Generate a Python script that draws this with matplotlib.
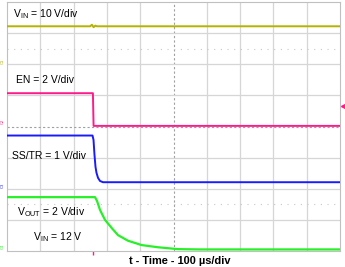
import matplotlib
matplotlib.use('Agg')
import matplotlib.pyplot as plt

plt.rcParams['font.family'] = ['Liberation Sans', 'DejaVu Sans']
plt.rcParams['mathtext.default'] = 'regular'

# time in us (100 us/div), levels in screen divisions (0 = bottom, 8 = top)
vin_t = [0, 250, 255, 260, 265, 270, 1000]
vin_y = [7.22, 7.22, 7.27, 7.19, 7.24, 7.22, 7.22]

en_t = [0, 258, 260, 1000]
en_y = [5.07, 5.07, 4.02, 4.02]

ss_t = [0, 256.8, 259.8, 262.8, 265.8, 268.8, 273.3, 279.3, 288.3, 1000]
ss_y = [3.71, 3.71, 3.57, 3.08, 2.70, 2.51, 2.35, 2.25, 2.21, 2.21]

vout_t = [0, 264.3, 270.3, 279.3, 294.3, 314.4, 333.3, 363.4, 404.5, 453.5, 513.5, 579.6, 1000]
vout_y = [1.73, 1.73, 1.61, 1.32, 1.00, 0.74, 0.51, 0.33, 0.19, 0.12, 0.06, 0.05, 0.05]

ch_names = ['1', '2', '3', '4']
ch_zero = [6.1, 4.15, 2.12, 0.16]
colors = ['#b3b300', '#ff1a8c', '#1a1aff', '#26f026']

fig = plt.figure(figsize=(3.45, 2.67), dpi=100)
ax = fig.add_axes([7/345, 16/267, 333/345, 249/267])
ax.set_xlim(0, 1000)
ax.set_ylim(0, 8)

for k in range(1, 10):
    if k == 5:
        ax.axvline(k*100, color='#a0a0a0', lw=0.8, ls=(0, (2, 2)), zorder=1)
    else:
        ax.axvline(k*100, color='#d6d6d6', lw=0.9, zorder=1)
for k in range(1, 8):
    if k == 4:
        ax.axhline(k, color='#a0a0a0', lw=0.8, ls=(0, (2, 2)), zorder=1)
    else:
        ax.axhline(k, color='#d6d6d6', lw=0.9, zorder=1)
for yy in [1.5, 6.5]:
    ax.axhline(yy, color='#c8c8c8', lw=0.8, ls=(0, (1, 5)), zorder=1)

ax.plot(vin_t, vin_y, color=colors[0], lw=1.4, zorder=3)
ax.plot(en_t, en_y, color=colors[1], lw=1.4, zorder=3)
ax.plot(ss_t, ss_y, color=colors[2], lw=1.4, zorder=3)
ax.plot(vout_t, vout_y, color=colors[3], lw=1.6, zorder=3)

for name, z, c in zip(ch_names, ch_zero, colors):
    ax.text(-12, z, 'C' + name, color=c, fontsize=3, rotation=90,
            ha='center', va='center', clip_on=False)

# trigger markers
ax.plot([1008], [4.66], marker='<', color=colors[1], ms=3, clip_on=False)
ax.plot([258], [-0.05], marker='|', color=colors[1], ms=3, clip_on=False)

fs = 7.5
ax.text(18, 7.52, r'V$_{IN}$ = 10 V/div', fontsize=fs, va='baseline')
ax.text(27, 5.40, 'EN = 2 V/div', fontsize=fs, va='baseline')
ax.text(15, 2.96, 'SS/TR = 1 V/div', fontsize=fs, va='baseline')
ax.text(30, 1.16, r'V$_{OUT}$ = 2 V/div', fontsize=fs, va='baseline')
ax.text(78, 0.35, r'V$_{IN}$ = 12 V', fontsize=fs, va='baseline')

fig.text(180/345, 1 - 261/267, 't - Time - 100 µs/div', fontsize=7.9,
         fontweight='bold', ha='center', va='center')

ax.set_xticks([])
ax.set_yticks([])
for s in ax.spines.values():
    s.set_color('#c0c0c0')
    s.set_linewidth(0.8)

fig.savefig('out.png', dpi=100)
